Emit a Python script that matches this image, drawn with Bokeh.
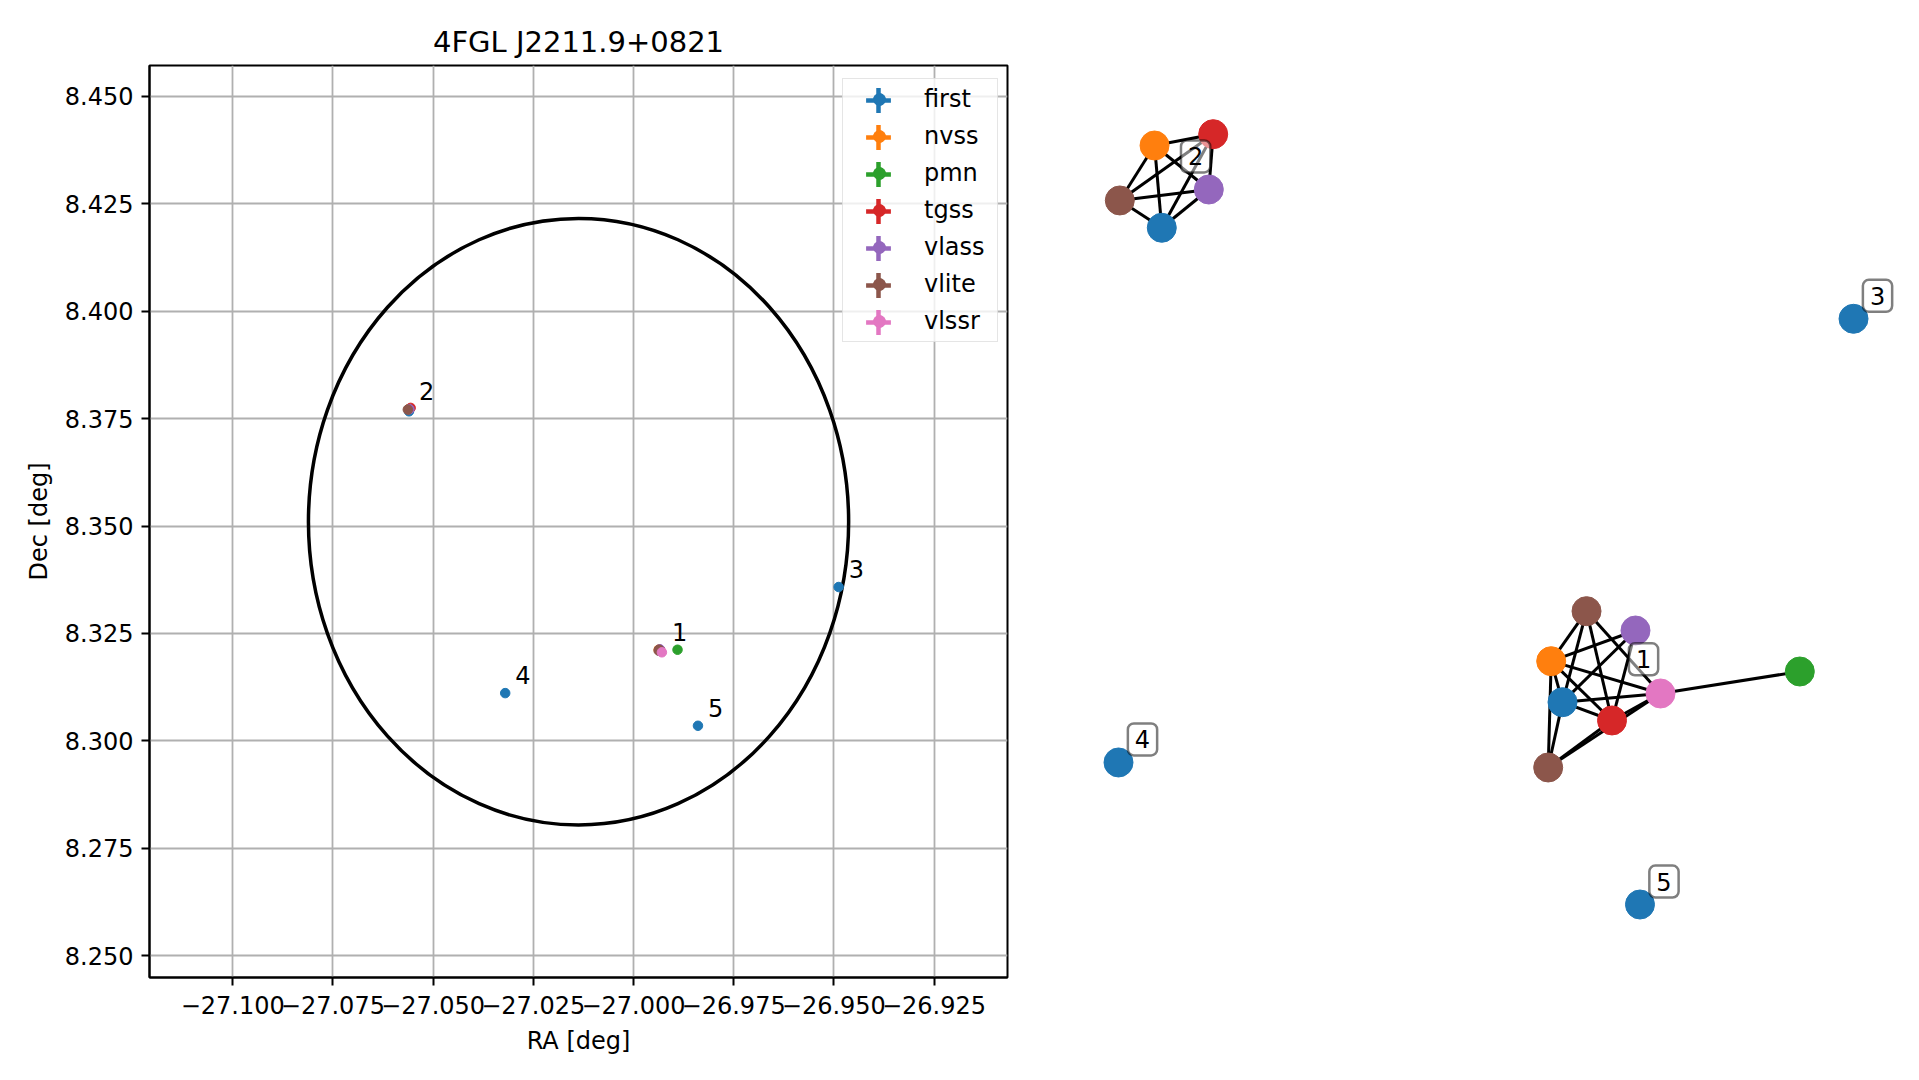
import numpy as np
from bokeh.plotting import figure
from bokeh.models import Range1d, FixedTicker, Legend, LegendItem, ColumnDataSource
from bokeh.layouts import row
from bokeh.embed import file_html
from bokeh.resources import INLINE
from bokeh.core.properties import value

FONT = "DejaVu Sans"
TITLE = "4FGL J2211.9+0821"

# ---------------- data ----------------
catalogs = ["first", "nvss", "pmn", "tgss", "vlass", "vlite", "vlssr"]
colors = ["#1f77b4", "#ff7f0e", "#2ca02c", "#d62728", "#9467bd", "#8c564b", "#e377c2"]

first_ra = [-26.9935, -27.0560, -26.9488, -27.0320, -26.9839]
first_dec = [8.3210, 8.3767, 8.3358, 8.3111, 8.3035]
first_src = [1, 2, 3, 4, 5]
nvss_ra = [-26.9937, -27.0561]
nvss_dec = [8.3212, 8.3772]
nvss_src = [1, 2]
pmn_ra = [-26.9890]
pmn_dec = [8.3212]
pmn_src = [1]
tgss_ra = [-26.9933, -27.0556]
tgss_dec = [8.3211, 8.3775]
tgss_src = [1, 2]
vlass_ra = [-26.9934, -27.0559]
vlass_dec = [8.3213, 8.3772]
vlass_src = [1, 2]
vlite_ra = [-26.9936, -26.9937, -27.0563]
vlite_dec = [8.3212, 8.3210, 8.3771]
vlite_src = [1, 1, 2]
vlssr_ra = [-26.9929]
vlssr_dec = [8.3206]
vlssr_src = [1]

# 4FGL localisation ellipse
roi_ra = -27.0137
roi_dec = 8.3510
roi_width = 0.1348
roi_height = 0.1412

x_ticks = [-27.100, -27.075, -27.050, -27.025, -27.000, -26.975, -26.950, -26.925]
x_tick_labels = ["\u221227.100", "\u221227.075", "\u221227.050", "\u221227.025",
                 "\u221227.000", "\u221226.975", "\u221226.950", "\u221226.925"]
y_ticks = [8.250, 8.275, 8.300, 8.325, 8.350, 8.375, 8.400, 8.425, 8.450]
y_tick_labels = ["8.250", "8.275", "8.300", "8.325", "8.350", "8.375", "8.400", "8.425", "8.450"]

# association graph (layout coordinates)
node_catalog = ["first", "nvss", "pmn", "tgss", "vlass", "vlite", "vlite", "vlssr",
                "first", "nvss", "tgss", "vlass", "vlite",
                "first", "first", "first"]
node_cluster = [1, 1, 1, 1, 1, 1, 1, 1, 2, 2, 2, 2, 2, 3, 4, 5]
node_x = [0.2230, 0.1970, 0.7685, 0.3368, 0.3908, 0.2782, 0.1901, 0.4483,
          -0.6982, -0.7149, -0.5800, -0.5901, -0.7947,
          0.8920, -0.7977, 0.4011]
node_y = [-0.3163, -0.2385, -0.2581, -0.3510, -0.1803, -0.1436, -0.4402, -0.2998,
          0.5839, 0.7400, 0.7615, 0.6565, 0.6357,
          0.4112, -0.4307, -0.7002]
edge_from = [5, 5, 5, 5, 1, 1, 1, 1, 1, 0, 0, 0, 0, 4, 3, 3, 7, 7,
             8, 8, 8, 8, 9, 9, 9, 10, 10, 11]
edge_to = [1, 0, 3, 7, 4, 7, 3, 0, 6, 4, 7, 3, 6, 3, 7, 6, 6, 2,
           9, 10, 11, 12, 10, 11, 12, 11, 12, 12]

# ---------------- left: sky plot ----------------
p = figure(width=1030, height=1062,
           x_range=Range1d(-27.12076, -26.90666), y_range=Range1d(8.2449, 8.4572),
           output_backend="svg", toolbar_location=None,
           min_border_left=149, min_border_right=23, min_border_top=65, min_border_bottom=85,
           title=TITLE)
p.title.align = "center"
p.title.text_font = FONT
p.title.text_font_size = "29px"
p.title.text_font_style = "normal"
p.title.text_color = "black"
p.title.standoff = 14

p.outline_line_color = "black"
p.outline_line_width = 2
p.background_fill_color = "white"
p.border_fill_color = "white"

p.xaxis.ticker = FixedTicker(ticks=x_ticks)
p.yaxis.ticker = FixedTicker(ticks=y_ticks)
p.xaxis.major_label_overrides = dict(zip(x_ticks, x_tick_labels))
p.yaxis.major_label_overrides = dict(zip(y_ticks, y_tick_labels))
p.xaxis.axis_label = "RA [deg]"
p.yaxis.axis_label = "Dec [deg]"
for ax in (p.xaxis[0], p.yaxis[0]):
    ax.axis_line_color = "black"
    ax.axis_line_width = 2
    ax.major_tick_line_color = "black"
    ax.major_tick_line_width = 2
    ax.major_tick_out = 8
    ax.major_tick_in = 0
    ax.minor_tick_line_color = None
    ax.major_label_text_font = FONT
    ax.major_label_text_font_size = "24px"
    ax.major_label_text_color = "black"
    ax.axis_label_text_font = FONT
    ax.axis_label_text_font_size = "24px"
    ax.axis_label_text_font_style = "normal"
    ax.axis_label_text_color = "black"
p.xaxis.major_label_standoff = 10
p.xaxis.axis_label_standoff = 10
p.yaxis.major_label_standoff = 8
p.yaxis.axis_label_standoff = 9

p.grid.grid_line_color = "#b0b0b0"
p.grid.grid_line_width = 1.8

p.ellipse(x=[roi_ra], y=[roi_dec], width=[roi_width], height=[roi_height],
          fill_color=None, line_color="black", line_width=3.5)

cat_data = {
    "first": (first_ra, first_dec, first_src),
    "nvss": (nvss_ra, nvss_dec, nvss_src),
    "pmn": (pmn_ra, pmn_dec, pmn_src),
    "tgss": (tgss_ra, tgss_dec, tgss_src),
    "vlass": (vlass_ra, vlass_dec, vlass_src),
    "vlite": (vlite_ra, vlite_dec, vlite_src),
    "vlssr": (vlssr_ra, vlssr_dec, vlssr_src),
}
color_of = dict(zip(catalogs, colors))

dot_items = []
cross_renderers = []
all_ra, all_dec, all_src = [], [], []
nan = np.array([np.nan])
for cat in catalogs:
    ra, dec, src = cat_data[cat]
    c = color_of[cat]
    p.scatter(x=ra, y=dec, marker="circle", size=9.5, fill_color=c, line_color=c)
    # legend-only glyphs (error-bar style key)
    r_cross = p.scatter(x=nan, y=nan, marker="cross", size=20, line_color=c, line_width=4.5)
    r_dot = p.scatter(x=nan, y=nan, marker="circle", size=12, line_color=c, fill_color=c)
    dot_items.append(LegendItem(label=cat, renderers=[r_dot]))
    cross_renderers.append(r_cross)
    all_ra += ra
    all_dec += dec
    all_src += src

all_ra = np.array(all_ra)
all_dec = np.array(all_dec)
all_src = np.array(all_src)
src_ids = sorted(set(all_src.tolist()))
lab_src = ColumnDataSource(dict(
    x=[all_ra[all_src == s].mean() for s in src_ids],
    y=[all_dec[all_src == s].mean() for s in src_ids],
    t=[str(s) for s in src_ids],
))
p.text(x="x", y="y", text="t", source=lab_src, x_offset=10, y_offset=-18,
       text_align="left", text_baseline="alphabetic",
       text_font=value(FONT), text_font_size="24px", text_color="black")

# legend layout
LEG_PAD = 5
LEG_ROW = 30
LEG_SP = 7
LEG_GW = 62
CROSS_BOX = 62
leg_vx, leg_vy = 693, 635
n_items = len(catalogs)
H0 = n_items * LEG_ROW + (n_items - 1) * LEG_SP + 2 * LEG_PAD
top_from_bottom = leg_vy + H0

legend0 = Legend(items=dot_items, location=(leg_vx, leg_vy), padding=LEG_PAD,
                 glyph_width=LEG_GW, glyph_height=LEG_ROW, label_height=LEG_ROW,
                 spacing=LEG_SP, label_standoff=14, label_width=68,
                 label_text_font=FONT, label_text_font_size="24px", label_text_color="black",
                 border_line_color="#cccccc", border_line_width=1.5,
                 background_fill_color="white", background_fill_alpha=0.8)
p.add_layout(legend0)

for i, r in enumerate(cross_renderers):
    center_from_bottom = top_from_bottom - LEG_PAD - LEG_ROW / 2 - i * (LEG_ROW + LEG_SP)
    vy = center_from_bottom - CROSS_BOX / 2
    vx = leg_vx + LEG_PAD + LEG_GW / 2 - CROSS_BOX / 2
    lg = Legend(items=[LegendItem(label=" ", renderers=[r])], location=(vx, vy), padding=0,
                glyph_width=CROSS_BOX, glyph_height=CROSS_BOX, label_width=0, label_standoff=0,
                label_text_font_size="1px", border_line_color=None,
                background_fill_alpha=0.0)
    p.add_layout(lg)

# ---------------- right: association graph ----------------
p2 = figure(width=870, height=1062, x_range=Range1d(-1, 1), y_range=Range1d(-0.8387, 0.8918),
            output_backend="svg", toolbar_location=None,
            x_axis_type=None, y_axis_type=None, min_border=0)
p2.outline_line_color = None
p2.grid.visible = False
p2.background_fill_color = "white"
p2.border_fill_color = "white"

nx = np.array(node_x)
ny = np.array(node_y)
ef = np.array(edge_from)
et = np.array(edge_to)
p2.segment(x0=nx[ef], y0=ny[ef], x1=nx[et], y1=ny[et], line_color="black", line_width=3)

node_src = ColumnDataSource(dict(x=node_x, y=node_y,
                                 c=[color_of[c] for c in node_catalog]))
p2.scatter(x="x", y="y", source=node_src, marker="circle", size=29,
           fill_color="c", line_color="c")

ncl = np.array(node_cluster)
cl_ids = sorted(set(node_cluster))
cl_src = ColumnDataSource(dict(
    x=[nx[ncl == k].mean() for k in cl_ids],
    y=[ny[ncl == k].mean() for k in cl_ids],
    t=[str(k) for k in cl_ids],
))
p2.text(x="x", y="y", text="t", source=cl_src, x_offset=24, y_offset=-23,
        text_align="center", text_baseline="middle",
        text_font=value(FONT), text_font_size="24px", text_color="black",
        background_fill_color="white", background_fill_alpha=0.5,
        border_line_color="black", border_line_alpha=0.5, border_line_width=2.5,
        padding=7, border_radius=6)

layout = row(p, p2)
open("out.html", "w").write(file_html(layout, INLINE, title=TITLE))
